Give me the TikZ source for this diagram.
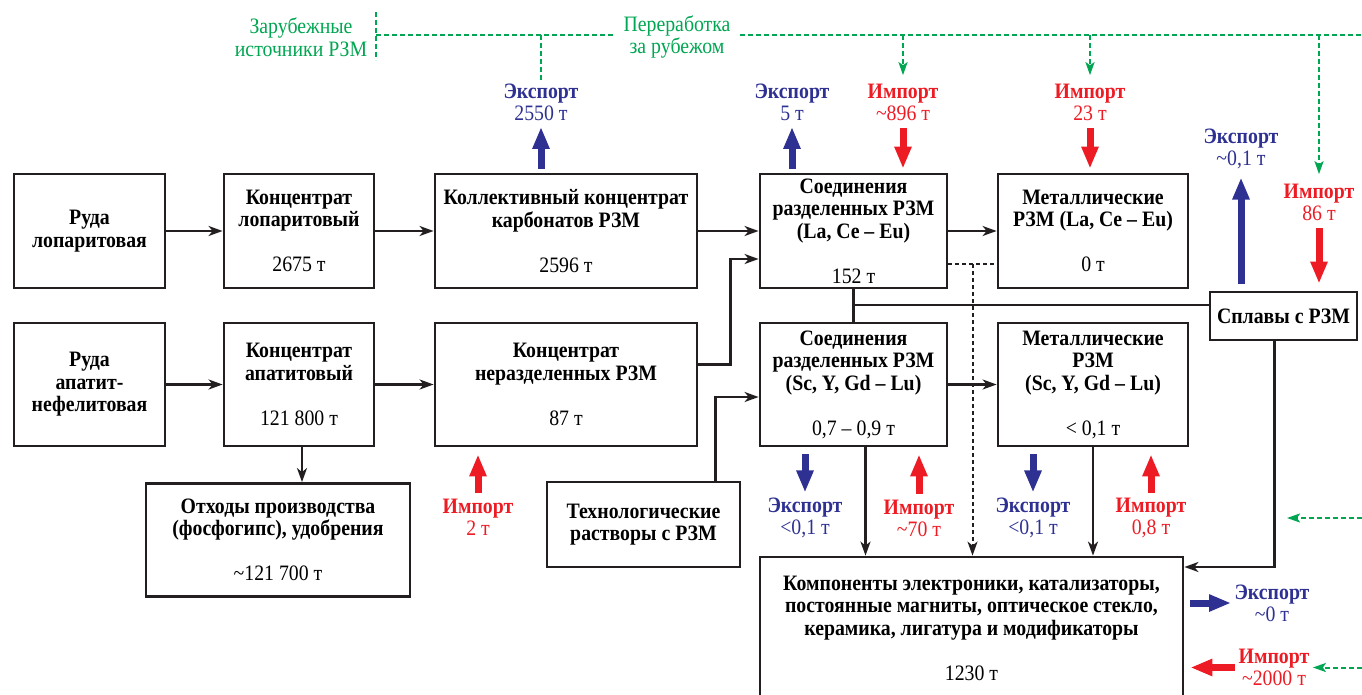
\documentclass[tikz,border=0pt]{standalone}
\usepackage{fontspec}
\setmainfont{Liberation Serif}[FakeStretch=0.9]
\usepackage{xcolor}
\usetikzlibrary{arrows.meta}
\definecolor{ink}{RGB}{35,31,32}
\definecolor{expblue}{RGB}{46,49,146}
\definecolor{impred}{RGB}{237,28,36}
\definecolor{abgreen}{RGB}{0,166,81}
\tikzset{
	box/.style={draw=ink, line width=2.8pt, align=center, inner sep=0pt,
			font=\fontsize{22}{22.5}\selectfont\bfseries},
	flow/.style={draw=ink, line width=2.2pt, -{Stealth[length=14pt,width=10pt,inset=4pt]}},
	link/.style={draw=ink, line width=2.2pt},
	dotline/.style={draw=ink, line width=2pt, dash pattern=on 4pt off 3pt},
	expo/.style={draw=expblue, line width=7pt, -{Triangle[length=22pt,width=16pt]}},
	impo/.style={draw=impred, line width=7pt, -{Triangle[length=22pt,width=16pt]}},
	abroad/.style={draw=abgreen, line width=2pt, dash pattern=on 5pt off 3pt},
	abroadarr/.style={abroad, -{Stealth[length=13pt,width=9pt,inset=3pt]}},
	explbl/.style={text=expblue, align=center, font=\fontsize{22}{22}\selectfont},
	implbl/.style={text=impred, align=center, font=\fontsize{22}{22}\selectfont},
	ablbl/.style={text=abgreen, align=center, font=\fontsize{22}{22.5}\selectfont}
}

\begin{document}
\begin{tikzpicture}[x=1pt,y=-1pt]
	\useasboundingbox (0,0) rectangle (1362,695);

	% Upper row
	\node[box, minimum width=151pt, minimum height=114pt] (rudaL) at (89.5,231) {Руда\\лопаритовая};
	\node[box, minimum width=150pt, minimum height=114pt] (koncL) at (299,231) {Концентрат\\лопаритовый\\[22.5pt]\mdseries 2675 т};
	\node[box, minimum width=262pt, minimum height=114pt] (kollK) at (566,231) {Коллективный концентрат\\карбонатов РЗМ\\[22.5pt]\mdseries 2596 т};
	\node[box, minimum width=187pt, minimum height=114pt] (soedLa) at (853.5,231) {Соединения\\разделенных РЗМ\\(La, Ce – Eu)\\[22.5pt]\mdseries 152 т};
	\node[box, minimum width=190pt, minimum height=114pt] (metLa) at (1093,231) {Металлические\\РЗМ (La, Ce – Eu)\\[22.5pt]\mdseries 0 т};
	\node[box, minimum width=147pt, minimum height=48pt] (splav) at (1283.5,316) {Сплавы с РЗМ};

	% Lower row
	\node[box, minimum width=151pt, minimum height=123pt] (rudaA) at (89.5,384.5) {Руда\\апатит-\\нефелитовая};
	\node[box, minimum width=150pt, minimum height=123pt] (koncA) at (299,384.5) {Концентрат\\апатитовый\\[22.5pt]\mdseries 121 800 т};
	\node[box, minimum width=262pt, minimum height=123pt] (nerazd) at (566,384.5) {Концентрат\\неразделенных РЗМ\\[22.5pt]\mdseries 87 т};
	\node[box, minimum width=187pt, minimum height=123pt] (soedSc) at (853.5,384.5) {Соединения\\разделенных РЗМ\\(Sc, Y, Gd – Lu)\\[22.5pt]\mdseries 0,7 – 0,9 т};
	\node[box, minimum width=190pt, minimum height=123pt] (metSc) at (1093,384.5) {Металлические\\РЗМ\\(Sc, Y, Gd – Lu)\\[22.5pt]\mdseries < 0,1 т};

	% Bottom boxes
	\node[box, minimum width=264pt, minimum height=113pt] (othody) at (278,540) {Отходы производства\\(фосфогипс), удобрения\\[22.5pt]\mdseries\textasciitilde121 700 т};
	\node[box, minimum width=193pt, minimum height=85pt] (tehn) at (643.5,524.5) {Технологические\\растворы с РЗМ};
	\node[box, minimum width=423pt, minimum height=142pt] (komp) at (971.5,628) {Компоненты электроники, катализаторы,\\постоянные магниты, оптическое стекло,\\керамика, лигатура и модификаторы\\[22.5pt]\mdseries 1230 т};

	% Flows
	\draw[flow] (rudaL) -- (koncL);
	\draw[flow] (koncL) -- (kollK);
	\draw[flow] (kollK) -- (soedLa);
	\draw[flow] (soedLa) -- (metLa);
	\draw[flow] (rudaA) -- (koncA);
	\draw[flow] (koncA) -- (nerazd);
	\draw[flow] (soedSc) -- (metSc);
	\draw[flow] ([yshift=20pt]nerazd.east) -- ++(32,0) |- ([yshift=-28pt]soedLa.west);
	\draw[flow] ([xshift=3pt]koncA.south) -- ([xshift=3pt]koncA.south |- othody.north);
	\draw[flow] ([xshift=72pt]tehn.north) |- ([yshift=-12.5pt]soedSc.west);
	\draw[link] (soedLa.south) -- (soedSc.north);
	\coordinate (splIn) at ([yshift=11pt]splav.west);
	\draw[link] (soedLa.south |- splIn) -- (splIn);
	\draw[flow] ([xshift=-9pt]splav.south) |- ([yshift=61pt]komp.east);
	\draw[dotline] ([yshift=-33pt]soedLa.east) -- coordinate (dotJ) ([yshift=-33pt]metLa.west);
	\draw[dotline, -{Stealth[length=14pt,width=10pt,inset=4pt]}] (dotJ) -- (dotJ |- komp.north);
	\draw[flow] ([xshift=12pt]soedSc.south) -- ([xshift=12pt]soedSc.south |- komp.north);
	\draw[flow] (metSc.south) -- (metSc.south |- komp.north);

	% Export and import, upper row
	\node[explbl] (exKoll) at (541,102) {\textbf{Экспорт}\\2550 т};
	\node[explbl] (exLa) at (792,102) {\textbf{Экспорт}\\5 т};
	\node[implbl] (imLa) at (903,102) {\textbf{Импорт}\\\textasciitilde896 т};
	\node[implbl] (imMet) at (1090,102) {\textbf{Импорт}\\23 т};
	\node[explbl] (exSpl) at (1241,149) {\textbf{Экспорт}\\\textasciitilde0,1 т};
	\node[implbl] (imSpl) at (1319,202) {\textbf{Импорт}\\86 т};
	\draw[expo, shorten <=4pt, shorten >=3pt] (kollK.north -| exKoll) -- (exKoll.south);
	\draw[expo, shorten <=4pt, shorten >=3pt] (soedLa.north -| exLa) -- (exLa.south);
	\draw[impo, shorten <=4pt, shorten >=4pt] (imLa.south) -- (imLa.south |- soedLa.north);
	\draw[impo, shorten <=4pt, shorten >=4pt] (imMet.south) -- (imMet.south |- metLa.north);
	\draw[expo, shorten <=7pt, shorten >=5pt] (splav.north -| exSpl) -- (exSpl.south);
	\draw[impo, shorten <=4pt, shorten >=7pt] (imSpl.south) -- (imSpl.south |- splav.north);

	% Export and import, lower row
	\node[implbl] (imNer) at (478,517) {\textbf{Импорт}\\2 т};
	\node[explbl] (exSc) at (805,518) {\textbf{Экспорт}\\<0,1 т};
	\node[implbl] (imSc) at (919,518) {\textbf{Импорт}\\\textasciitilde70 т};
	\node[explbl] (exMet) at (1033,518) {\textbf{Экспорт}\\<0,1 т};
	\node[implbl] (imMSc) at (1151,518) {\textbf{Импорт}\\0,8 т};
	\draw[impo, shorten <=2pt, shorten >=7pt] (imNer.north) -- (imNer.north |- nerazd.south);
	\draw[expo, shorten <=7pt, shorten >=2pt] (soedSc.south -| exSc) -- (exSc.north);
	\draw[impo, shorten <=2pt, shorten >=7pt] (imSc.north) -- (imSc.north |- soedSc.south);
	\draw[expo, shorten <=7pt, shorten >=2pt] (metSc.south -| exMet) -- (exMet.north);
	\draw[impo, shorten <=2pt, shorten >=7pt] (imMSc.north) -- (imMSc.north |- metSc.south);

	% Export and import of components
	\node[explbl] (exK) at (1272,603) {\textbf{Экспорт}\\\textasciitilde0 т};
	\node[implbl] (imK) at (1274,667.5) {\textbf{Импорт}\\\textasciitilde2000 т};
	\draw[expo, shorten <=6pt] (exK.west -| komp.east) -- (exK.west);
	\draw[impo, shorten >=6pt] (imK.west) -- (imK.west -| komp.east);

	% Abroad
	\node[ablbl] (zarub) at (301,37) {Зарубежные\\источники РЗМ};
	\node[ablbl, inner xsep=9pt] (pererab) at (677,37) {Переработка\\за рубежом};
	\coordinate (gsrc) at (376,35);
	\coordinate (gend) at (1362,35);
	\coordinate (gR1) at (1362,518);
	\draw[abroad] (376,12) -- (376,60);
	\draw[abroad] (gsrc) -- (pererab.west |- gsrc);
	\draw[abroad] (pererab.east |- gsrc) -- (gend);
	\draw[abroad] (exKoll.north |- gsrc) -- (exKoll.north);
	\draw[abroadarr, shorten >=5pt] (imLa.north |- gsrc) -- (imLa.north);
	\draw[abroadarr, shorten >=5pt] (imMet.north |- gsrc) -- (imMet.north);
	\draw[abroadarr, shorten >=6pt] (imSpl.north |- gsrc) -- (imSpl.north);
	\draw[abroadarr] (gR1) -- ++(-75,0);
	\draw[abroadarr] (imK.east -| gend) -- (imK.east);
\end{tikzpicture}
\end{document}
